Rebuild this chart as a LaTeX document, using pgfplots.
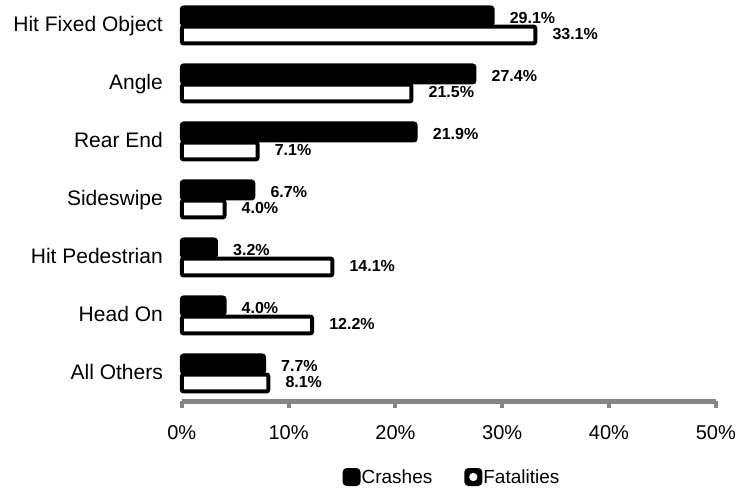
\documentclass[border=0pt]{standalone}
\usepackage{fontspec}
\setmainfont{Liberation Sans}
\usepackage{pgfplots}
\usepackage{pgfplotstable}
\pgfplotsset{compat=1.18}
\definecolor{axisgrey}{RGB}{134,134,134}

\pgfplotstableread{
idx crash fatal
6 29.1 33.1
5 27.4 21.5
4 21.9 7.1
3 6.7 4.0
2 3.2 14.1
1 4.0 12.2
0 7.7 8.1
}\datatable

\begin{document}
\begin{tikzpicture}
\begin{axis}[
  at={(181.8bp,89.5bp)}, anchor=south west,
  scale only axis, width=534bp, height=406bp,
  xmin=0, xmax=50, ymin=-0.483, ymax=6.517,
  xbar, bar width=0.293,
  axis x line*=bottom, axis y line*=left,
  y axis line style={draw=none},
  x axis line style={draw=axisgrey, line width=4bp, -},
  xtick={0,10,20,30,40,50},
  xticklabels={0\%,10\%,20\%,30\%,40\%,50\%},
  xtick style={draw=axisgrey, line width=4bp},
  tick align=outside, major tick length=6bp,
  ytick={0,1,2,3,4,5,6},
  yticklabels={All Others,Head On,Hit Pedestrian,Sideswipe,Rear End,Angle,Hit Fixed Object},
  ytick style={draw=none},
  xticklabel style={font=\fontsize{20bp}{24bp}\selectfont, anchor=base, inner sep=0pt, yshift=-32bp},
  yticklabel style={font=\fontsize{21bp}{25bp}\selectfont, anchor=base east, inner sep=0pt, xshift=-12.8bp, yshift=-6.5bp},
  clip=false,
  point meta=x,
  /pgf/number format/assume math mode=true,
  nodes near coords style={font=\fontsize{16bp}{19bp}\selectfont\bfseries, anchor=west, inner sep=0pt, xshift=17bp, black},
  legend columns=2,
  legend cell align=left,
  legend style={
    at={(0.505,-0.186)}, anchor=center,
    draw=none, fill=none,
    font=\fontsize{19bp}{23bp}\selectfont,
    inner sep=0pt, outer sep=0pt,
    /tikz/every even column/.append style={column sep=31bp},
    nodes={inner sep=1bp},
  },
]
% labels first (bars drawn over them, as in the reference)
\addplot[xbar, bar shift=0.129, draw=none, fill=none, forget plot,
  nodes near coords={\pgfmathprintnumber[fixed,fixed zerofill,precision=1]{\pgfplotspointmeta}\%}]
  table[x=crash, y=idx]{\datatable};
\addplot[xbar, bar shift=-0.147, draw=none, fill=none, forget plot,
  nodes near coords={\pgfmathprintnumber[fixed,fixed zerofill,precision=1]{\pgfplotspointmeta}\%}]
  table[x=fatal, y=idx]{\datatable};
% bars
\addplot[xbar, bar shift=0.164, fill=black, draw=black, line width=4bp, rounded corners=2bp,
  legend image code/.code={\fill[black, rounded corners=2.5bp] (0bp,-7bp) rectangle (14bp,7bp);}]
  table[x=crash, y=idx]{\datatable};
\addlegendentry{Crashes}
\addplot[xbar, bar shift=-0.164, fill=white, draw=black, line width=4bp, rounded corners=2bp,
  legend image code/.code={\fill[black, rounded corners=2.5bp] (0bp,-7bp) rectangle (14bp,7bp); \fill[white] (5bp,-2bp) rectangle (9bp,2bp);}]
  table[x=fatal, y=idx]{\datatable};
\addlegendentry{Fatalities}
\end{axis}
\pgfresetboundingbox
\useasboundingbox (0,0) rectangle (741bp,491bp);
\end{tikzpicture}
\end{document}
